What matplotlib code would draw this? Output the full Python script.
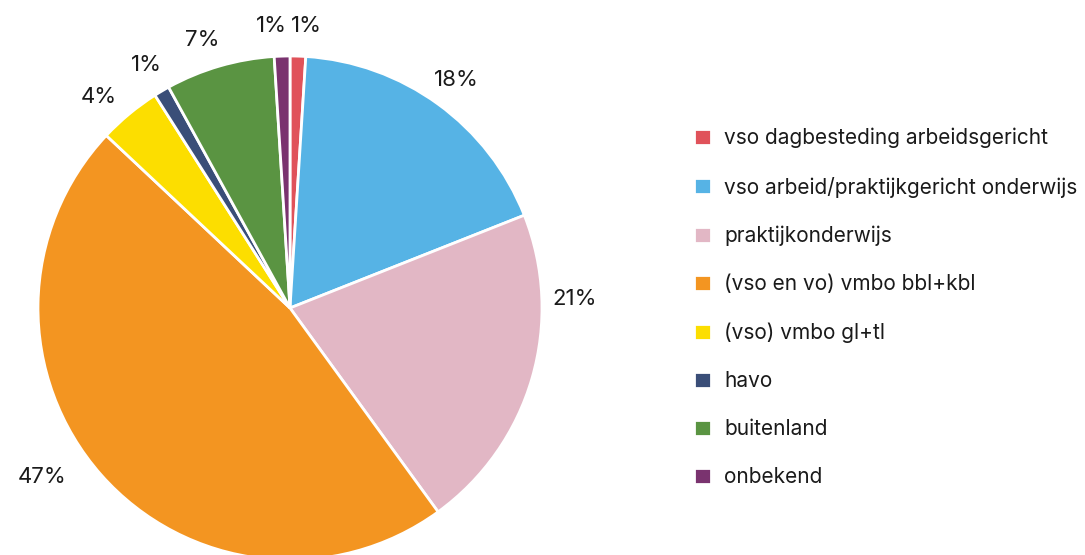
import numpy as np
import matplotlib.pyplot as plt

plt.rcParams['font.family'] = ['Inter', 'DejaVu Sans']

categories = ['vso dagbesteding arbeidsgericht', 'vso arbeid/praktijkgericht onderwijs',
              'praktijkonderwijs', '(vso en vo) vmbo bbl+kbl', '(vso) vmbo gl+tl',
              'havo', 'buitenland', 'onbekend']
values = [1, 18, 21, 47, 4, 1, 7, 1]
colors = ['#E0525A', '#56B3E5', '#E2B7C5', '#F39521', '#FCDE00', '#3A4E78', '#5A9442', '#7A336F']

fig = plt.figure(figsize=(10.85, 5.55), dpi=100)
ax = fig.add_axes([0, 0, 1, 1])

cx, cy, R = 290, 247, 252
wedges, _ = ax.pie(values, colors=colors, startangle=90, counterclock=False,
                   center=(cx, cy), radius=R,
                   wedgeprops=dict(edgecolor='white', linewidth=2), frame=True)
ax.set_xlim(0, 1085)
ax.set_ylim(0, 555)
ax.set_aspect('equal')
ax.axis('off')

# label placement: angle nudge (deg) and radius factor per slice
nudge = {0: (-1.5, 1.12), 2: (18, 1.13), 3: (-7, 1.19), 4: (2.5, 1.13),
         6: (2, 1.12), 7: (2, 1.12)}
for i, (w, v) in enumerate(zip(wedges, values)):
    mid = (w.theta1 + w.theta2) / 2
    d, f = nudge.get(i, (0, 1.12))
    a = np.deg2rad(mid + d)
    ax.text(cx + f * R * np.cos(a), cy + f * R * np.sin(a), f'{v}%',
            ha='center', va='center', fontsize=16, color='#1a1a1a')

fig.legend(wedges, categories, loc='upper left', bbox_to_anchor=(694 / 1085, 1 - 128 / 555),
           frameon=False, fontsize=15, handlelength=0.8, handleheight=0.8,
           handletextpad=0.65, labelspacing=1.35, borderaxespad=0, borderpad=0,
           labelcolor='#1a1a1a')

plt.savefig('out.png', dpi=100)
